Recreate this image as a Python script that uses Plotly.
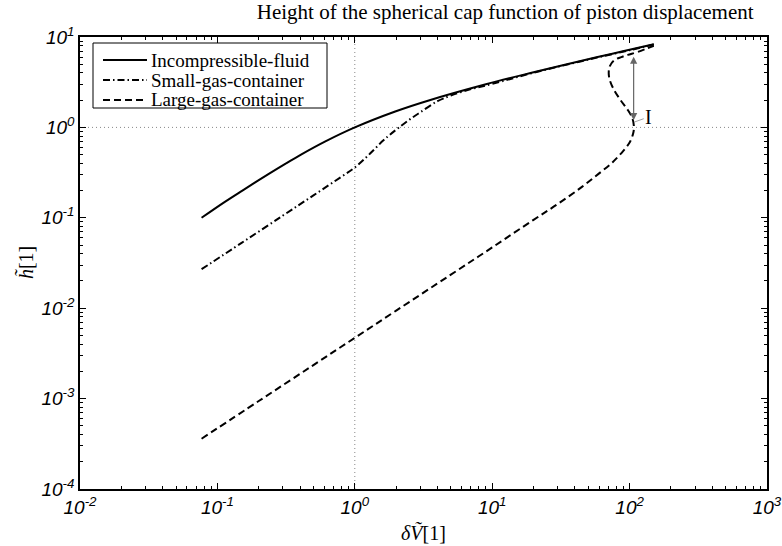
import math
import plotly.graph_objects as go

# ---- data ----
inc_V = [0.0767, 0.1133, 0.152, 0.2318, 0.316, 0.406, 0.611, 1.0, 1.969, 3.5, 9.0, 19.0, 35.0, 58.5, 91.0, 150.0]
inc_h = [0.1, 0.15, 0.2, 0.3, 0.4, 0.5, 0.7, 1.0, 1.5, 2.0, 3.0, 4.0, 5.0, 6.0, 7.0, 8.32]

small_V = [0.0767, 0.15, 0.3, 0.5, 0.8, 1.0, 1.2, 1.4, 1.6, 1.8, 2.1, 2.5, 3.0, 4.0, 5.0, 7.0, 10.0, 20.0, 35.0, 60.0, 100.0, 150.0]
small_h = [0.027, 0.0528, 0.106, 0.177, 0.285, 0.36, 0.46, 0.58, 0.71, 0.83, 1.0, 1.22, 1.47, 1.95, 2.25, 2.65, 3.03, 4.03, 4.95, 6.0, 7.15, 8.25]

large_V = [0.0767, 0.2, 0.5, 1.0, 2.0, 5.0, 10.0, 20.0, 30.0, 45.0, 60.0, 75.0, 90.0, 100.0, 106.0, 107.5,
           105.0, 97.0, 86.0, 77.0, 71.5, 70.5, 72.0, 77.0, 87.0, 97.0, 115.0, 150.0]
large_h = [3.6e-4, 9.4e-4, 0.00235, 0.0047, 0.0094, 0.0235, 0.047, 0.095, 0.142, 0.22, 0.31, 0.41, 0.55, 0.68, 0.85, 1.0,
           1.25, 1.56, 2.0, 2.6, 3.4, 4.1, 4.8, 5.5, 6.0, 6.35, 6.85, 8.0]

series_names = ["Incompressible-fluid", "Small-gas-container", "Large-gas-container"]

# reference lines at 1
ref_h_x = [0.01, 1000.0]
ref_h_y = [1.0, 1.0]
ref_v_x = [1.0, 1.0]
ref_v_y = [1e-4, 10.0]

# jump marker "I"
jump_V = 107.0
jump_h_low = 1.2
jump_h_high = 6.3
jump_label = "I"
jump_label_V = 109.0
jump_label_h = 1.15

# tick labels
x_tickvals = [0.01, 0.1, 1, 10, 100, 1000]
x_ticktext = ["10<sup>-2</sup>", "10<sup>-1</sup>", "10<sup>0</sup>", "10<sup>1</sup>", "10<sup>2</sup>", "10<sup>3</sup>"]
y_tickvals = [1e-4, 1e-3, 1e-2, 1e-1, 1, 10]
y_ticktext = ["10<sup>-4</sup>", "10<sup>-3</sup>", "10<sup>-2</sup>", "10<sup>-1</sup>", "10<sup>0</sup>", "10<sup>1</sup>"]

title_text = "Height of the spherical cap function of piston displacement"
x_title = "<i>δṼ</i>[1]"
y_title = "<i>h̃</i>[1]"

serif = "Liberation Serif"
sans = "Liberation Sans"

# ---- styles ----
W, H = 782, 546
ML, MR, MT, MB = 80, 15, 37, 57
PW, PH = W - ML - MR, H - MT - MB
dashes = ["solid", "7px,3px,1.5px,3px", "7px,4px"]


def px2paper_x(px):
    return (px - ML) / PW


def px2paper_y(py):
    return 1 - (py - MT) / PH


fig = go.Figure()

fig.add_trace(go.Scatter(x=ref_h_x, y=ref_h_y, mode="lines", showlegend=False, hoverinfo="skip",
                         line=dict(color="#888888", width=1, dash="1px,3px")))
fig.add_trace(go.Scatter(x=ref_v_x, y=ref_v_y, mode="lines", showlegend=False, hoverinfo="skip",
                         line=dict(color="#888888", width=1, dash="1px,3px")))

for xs, ys, nm, ds in zip([inc_V, small_V, large_V], [inc_h, small_h, large_h], series_names, dashes):
    fig.add_trace(go.Scatter(x=xs, y=ys, mode="lines", name=nm, showlegend=False,
                             line=dict(color="black", width=2, shape="spline", smoothing=1, dash=ds)))

# empty trace that only activates the overlay axes carrying the minor ticks
fig.add_trace(go.Scatter(x=[], y=[], xaxis="x2", yaxis="y2", showlegend=False, hoverinfo="skip"))

minor_x = [m * 10 ** e for e in range(-2, 3) for m in range(2, 10)]
minor_y = [m * 10 ** e for e in range(-4, 1) for m in range(2, 10)]

axis_common = dict(type="log", showline=True, linecolor="black", linewidth=1.5, mirror="allticks",
                   ticks="inside", ticklen=6, tickwidth=1, tickcolor="black", showgrid=False, zeroline=False,
                   tickmode="array",
                   tickfont=dict(family=sans, size=19, color="black", style="italic"))
minor_common = dict(type="log", showline=False, showgrid=False, zeroline=False, mirror="ticks",
                    ticks="inside", ticklen=3, tickwidth=1, tickcolor="black", tickmode="array",
                    showticklabels=False)

fig.update_layout(
    xaxis=dict(range=[-2, 3], tickvals=x_tickvals, ticktext=x_ticktext, **axis_common),
    yaxis=dict(range=[-4, 1], tickvals=y_tickvals, ticktext=y_ticktext, **axis_common),
    xaxis2=dict(range=[-2, 3], tickvals=minor_x, overlaying="x", anchor="y2", side="bottom", **minor_common),
    yaxis2=dict(range=[-4, 1], tickvals=minor_y, overlaying="y", anchor="x2", side="left", **minor_common),
)

# jump arrow (annotation coordinates on log axes are log10 values)
fig.add_annotation(x=math.log10(jump_V), y=math.log10(jump_h_low), ax=math.log10(jump_V), ay=math.log10(jump_h_high),
                   xref="x", yref="y", axref="x", ayref="y", text="", showarrow=True,
                   arrowside="end+start", arrowhead=2, arrowsize=1.2, arrowwidth=1.2, arrowcolor="#666666")
fig.add_annotation(x=math.log10(jump_label_V), y=math.log10(jump_label_h), ax=14, ay=-5,
                   xref="x", yref="y", text=jump_label, showarrow=True, arrowhead=0, arrowwidth=0.8,
                   arrowcolor="#888888", font=dict(family=serif, size=20, color="black"))

# axis titles
fig.add_annotation(text=x_title, xref="paper", yref="paper", x=0.5, y=-0.096, showarrow=False,
                   xanchor="center", yanchor="middle", font=dict(family=serif, size=20, color="black"))
fig.add_annotation(text=y_title, xref="paper", yref="paper", x=-0.08, y=0.5, showarrow=False, textangle=-90,
                   xanchor="center", yanchor="middle", font=dict(family=serif, size=20, color="black"))

# legend box drawn in the upper-left corner
leg_left, leg_right, leg_top, leg_bottom = 93, 327, 43, 108
row_y = [60, 80, 100]
fig.add_shape(type="rect", xref="paper", yref="paper",
              x0=px2paper_x(leg_left), x1=px2paper_x(leg_right),
              y0=px2paper_y(leg_bottom), y1=px2paper_y(leg_top),
              line=dict(color="black", width=1), fillcolor="white", layer="above")
for ry, nm, ds in zip(row_y, series_names, dashes):
    fig.add_shape(type="line", xref="paper", yref="paper",
                  x0=px2paper_x(103), x1=px2paper_x(147), y0=px2paper_y(ry), y1=px2paper_y(ry),
                  line=dict(color="black", width=2, dash=ds), layer="above")
    fig.add_annotation(text=nm, xref="paper", yref="paper", x=px2paper_x(149), y=px2paper_y(ry),
                       xanchor="left", yanchor="middle", showarrow=False,
                       font=dict(family=serif, size=19, color="black"))

fig.update_layout(
    width=W, height=H,
    margin=dict(l=ML, r=MR, t=MT, b=MB, autoexpand=False),
    paper_bgcolor="white", plot_bgcolor="white",
    title=dict(text=title_text, xref="container", yref="container", x=0.646, y=0.979,
               xanchor="center", yanchor="middle", font=dict(family=serif, size=21, color="black")),
    showlegend=False,
)

fig.write_html("out.html", config={"displayModeBar": False},
               post_script="document.body.style.margin='0px';")
